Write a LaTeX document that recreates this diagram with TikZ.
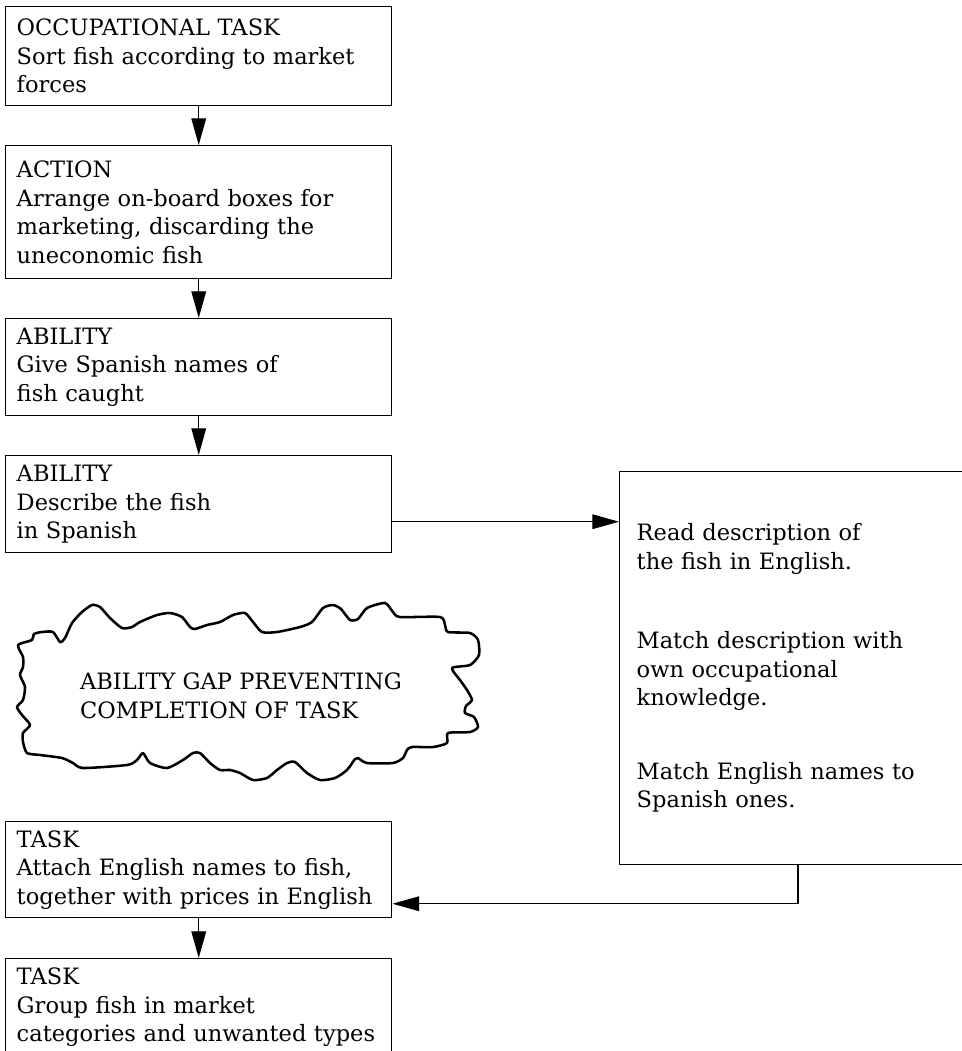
\documentclass[tikz,border=0pt]{standalone}
\usepackage{fontspec}
\setmainfont{DejaVu Serif}
\usetikzlibrary{arrows.meta}
\begin{document}
\begin{tikzpicture}[x=0.75pt,y=-0.75pt,
  txt/.style={font=\fontsize{16.9}{21.4}\selectfont},
  box/.style={txt,draw,line width=1.1pt,rectangle,anchor=north west,
    minimum width=289.5pt,text width=273pt,inner xsep=8.25pt,inner ysep=0pt,align=left},
  arr/.style={-{Triangle[length=20pt,width=11pt]},line width=0.9pt},
  cloudline/.style={line width=1.9pt,line join=round}]
\path[clip] (0,0) rectangle (962,1051);

\node[box,minimum height=74.25pt] (b1) at (5,6)
  {OCCUPATIONAL TASK\\Sort fish according to market\\forces};
\node[box,minimum height=99.75pt] (b2) at (5,145)
  {ACTION\\Arrange on-board boxes for\\marketing, discarding the\\uneconomic fish};
\node[box,minimum height=72.75pt] (b3) at (5,318)
  {ABILITY\\Give Spanish names of\\fish caught};
\node[box,minimum height=72.75pt] (b4) at (5,455)
  {ABILITY\\Describe the fish\\in Spanish};
\node[box,minimum height=72pt] (b5) at (5,821)
  {TASK\\Attach English names to fish,\\together with prices in English};
\node[box,minimum height=72.75pt] (b6) at (5,958)
  {TASK\\Group fish in market\\categories and unwanted types};

\node[txt,draw,line width=1.1pt,rectangle,anchor=north west,minimum width=270pt,
  minimum height=294.75pt,text width=244.5pt,inner xsep=12.75pt,align=left] (rb) at (619,471)
  {Read description of\\the fish in English.\\[37.9pt]Match description with\\own occupational\\knowledge.\\[34pt]Match English names to\\Spanish ones.};

\draw[cloudline] plot[smooth cycle,tension=0.4] coordinates {
 (18,645) (32,640) (34,634) (42,632) (53,632) (60,642) (65,638) (72,623) (82,612) (92,605)
 (100,607) (110,618) (122,628) (132,627) (140,622) (157,615) (170,613) (182,617) (190,627)
 (195,629) (207,625) (220,622) (233,615) (245,613) (253,622) (262,632) (277,632) (300,627)
 (312,622) (323,608) (333,605) (341,609) (350,620) (358,619) (367,608) (385,603) (393,612)
 (400,617) (440,617) (445,625) (448,632) (470,633) (478,640) (479,655) (470,665) (452,668)
 (460,680) (467,690) (472,700) (466,706) (465,713) (474,717) (478,727) (470,732) (448,733)
 (447,743) (433,747) (412,747) (407,750) (403,758) (393,763) (367,763) (358,758) (355,759)
 (347,770) (335,778) (320,780) (307,773) (295,762) (287,763) (277,770) (267,778) (253,780)
 (240,773) (230,770) (220,770) (210,763) (200,753) (193,753) (183,760) (167,768) (150,763)
 (143,753) (137,760) (127,765) (83,768) (73,763) (62,758) (40,755) (27,753) (23,742)
 (23,733) (30,725) (22,715) (17,707) (23,700) (25,687) (20,675) (23,667) (23,657)};
\node[txt,align=left,inner sep=0pt] (gaptxt) at (241,696)
  {ABILITY GAP PREVENTING\\COMPLETION OF TASK};

\draw[arr] (b1.south) -- (b2.north);
\draw[arr] (b2.south) -- (b3.north);
\draw[arr] (b3.south) -- (b4.north);
\draw[arr] (b5.south) -- (b6.north);
\draw[arr] ([yshift=-13.1pt]b4.east) -- ([yshift=-13.1pt]b4.east -| rb.west);
\draw[arr] ([xshift=134.25pt]rb.south west) |- ([yshift=-25.5pt]b5.east);
\end{tikzpicture}
\end{document}
